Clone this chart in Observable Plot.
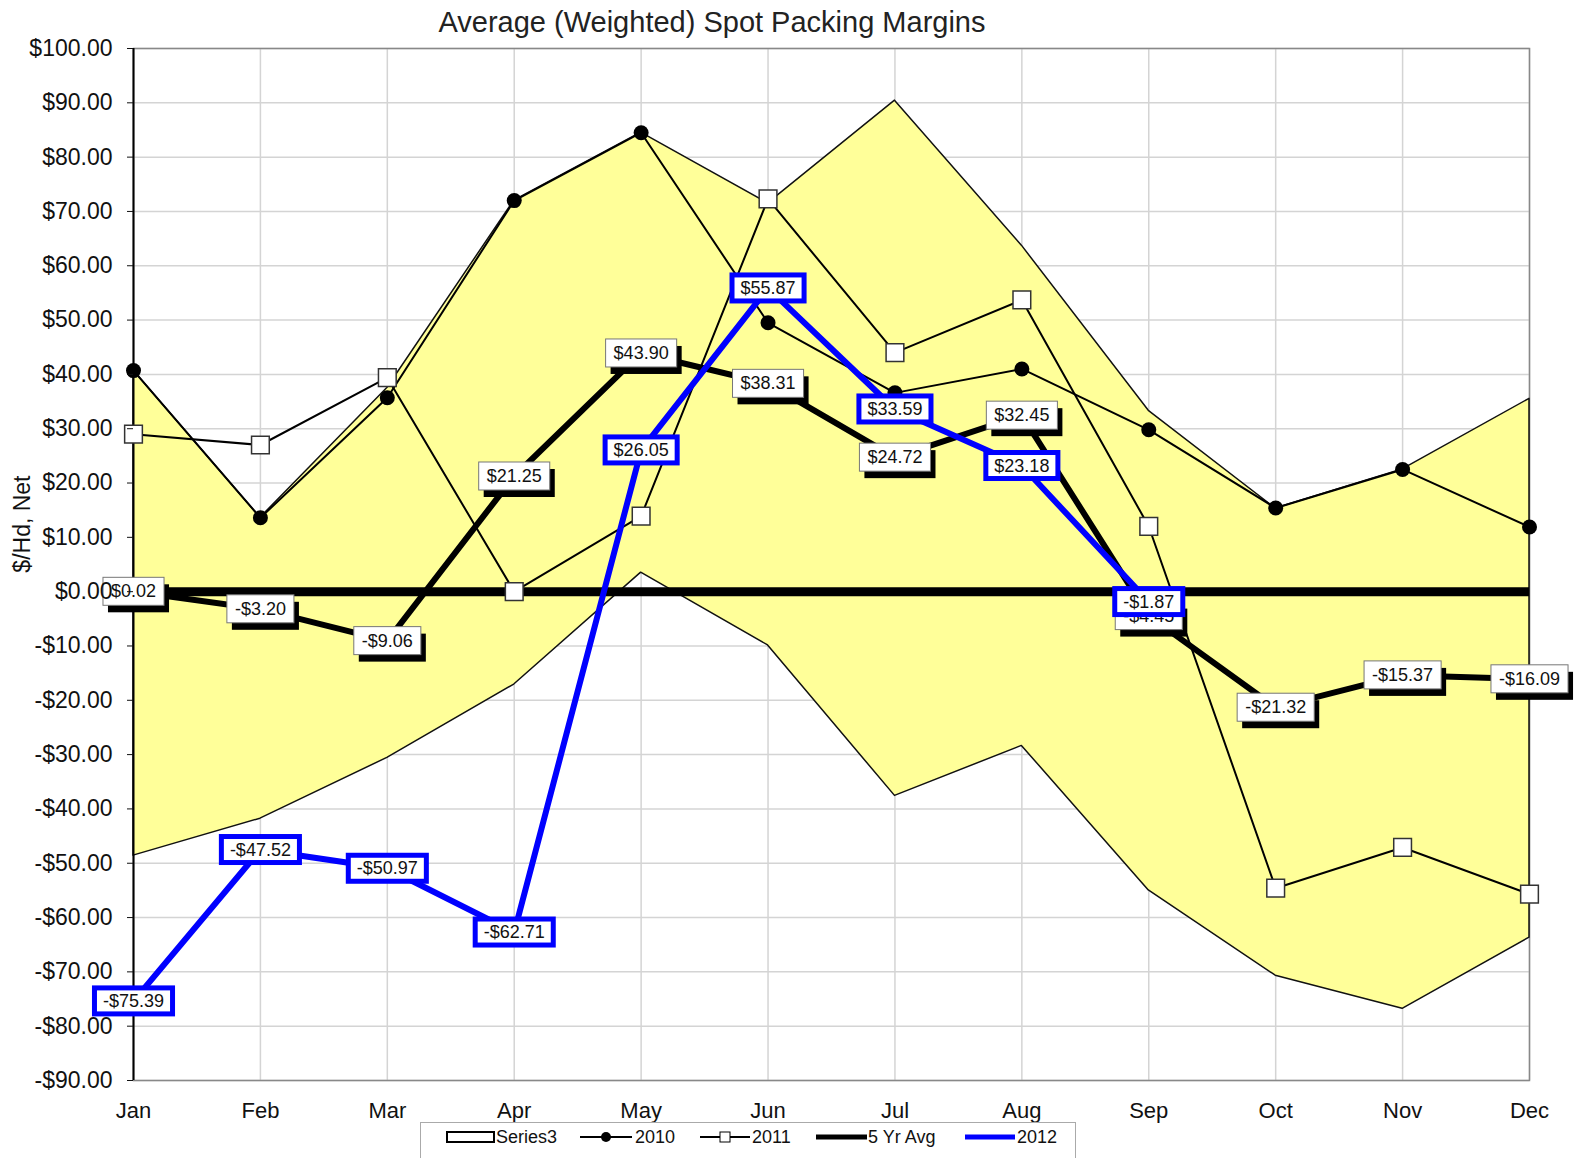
<!DOCTYPE html>
<html>
<head>
<meta charset="utf-8">
<script src="https://cdn.jsdelivr.net/npm/d3@7"></script>
<script src="https://cdn.jsdelivr.net/npm/@observablehq/plot@0.6"></script>
<style>
  body { margin: 0; background: #fff; font-family: "Liberation Sans", Arial, sans-serif; width: 1574px; }
  #title { position: relative; height: 36px; }
  #title span { position: absolute; left: 0; width: 1424px; text-align: center; font-size: 29px; color: #222; top: 6px; }
  #chart svg { display: block; }
  #legend { position: relative; height: 36px; margin-top: -2px; }
</style>
</head>
<body>
<div id="title"><span>Average (Weighted) Spot Packing Margins</span></div>
<div id="chart"></div>
<div id="legend"></div>
<script>
// ---------- data ----------
const months = ["Jan","Feb","Mar","Apr","May","Jun","Jul","Aug","Sep","Oct","Nov","Dec"];
const bandLow  = [-48.6,-41.8,-30.6,-17.1,3.5,-9.9,-37.6,-28.4,-55.0,-70.7,-76.8,-63.7];
const bandHigh = [40.7,13.6,37.5,72.0,84.5,71.5,90.4,63.7,33.3,15.3,22.5,35.5];
const s2010 = [40.7,13.6,35.7,72.0,84.5,49.5,36.6,41.0,29.8,15.4,22.5,11.9];
const s2011 = [29.0,27.0,39.4,0.0,13.9,72.3,44.0,53.7,12.0,-54.6,-47.1,-55.7];
const avg5  = [0.02,-3.20,-9.06,21.25,43.90,38.31,24.72,32.45,-4.45,-21.32,-15.37,-16.09];
const s2012 = [-75.39,-47.52,-50.97,-62.71,26.05,55.87,33.59,23.18,-1.87];
const yTicks = d3.range(-90, 101, 10);
const legendItems = ["Series3","2010","2011","5 Yr Avg","2012"];

const fmt = v => (v < 0 ? "-" : "") + "$" + Math.abs(v).toFixed(2);
const band = months.map((m, i) => ({m, lo: bandLow[i], hi: bandHigh[i]}));
const d2010 = months.map((m, i) => ({m, v: s2010[i]}));
const d2011 = months.map((m, i) => ({m, v: s2011[i]}));
const dAvg = months.map((m, i) => ({m, v: avg5[i]}));
const d2012 = s2012.map((v, i) => ({m: months[i], v}));

const chart = Plot.plot({
  width: 1574,
  height: 1088,
  marginLeft: 133,
  marginRight: 45,
  marginTop: 12,
  marginBottom: 44,
  style: {fontFamily: "'Liberation Sans', Arial, sans-serif", fontSize: "22px", color: "#111", background: "white"},
  x: {type: "point", domain: months, padding: 0, round: false, label: null},
  y: {domain: [-90, 100], label: null},
  marks: [
    Plot.gridX(months, {stroke: "#d4d4d4", strokeOpacity: 1, strokeWidth: 1.5}),
    Plot.gridY(yTicks, {stroke: "#d4d4d4", strokeOpacity: 1, strokeWidth: 1.5}),
    Plot.frame({stroke: "#888", strokeWidth: 1.5}),
    Plot.areaY(band, {x: "m", y1: "lo", y2: "hi", fill: "#ffff99", stroke: "#111", strokeWidth: 1.5}),
    Plot.ruleX([months[0]], {stroke: "black", strokeWidth: 2}),
    Plot.ruleY([0], {stroke: "black", strokeWidth: 9}),
    Plot.line(d2010, {x: "m", y: "v", stroke: "black", strokeWidth: 2}),
    Plot.dot(d2010, {x: "m", y: "v", r: 7.5, fill: "black"}),
    Plot.line(d2011, {x: "m", y: "v", stroke: "black", strokeWidth: 2}),
    Plot.dot(d2011, {x: "m", y: "v", symbol: "square", r: 10, fill: "white", stroke: "#333", strokeWidth: 1.5}),
    Plot.line(dAvg, {x: "m", y: "v", stroke: "black", strokeWidth: 6}),
    Plot.line(d2012, {x: "m", y: "v", stroke: "#0000ff", strokeWidth: 6}),
    Plot.text(dAvg, {x: "m", y: "v", text: d => fmt(d.v), fontSize: 18, fill: "#111", ariaDescription: "lbl5"}),
    Plot.text(d2012, {x: "m", y: "v", text: d => fmt(d.v), fontSize: 18, fill: "#111", ariaDescription: "lbl12"}),
    Plot.axisX({tickSize: 0, tickPadding: 22, fontSize: 22, label: null}),
    Plot.axisY({ticks: yTicks, tickFormat: fmt, tickSize: 6, tickPadding: 15, fontSize: 23, label: null}),
    Plot.text(["$/Hd, Net"], {text: d => d, frameAnchor: "left", y: [3.5], dx: -111, rotate: -90, fontSize: 23, fill: "#111"})
  ]
});
document.getElementById("chart").appendChild(chart);

// label boxes behind the data-label texts
const NS = "http://www.w3.org/2000/svg";
function boxify(sel, kind) {
  const g = chart.querySelector(`g[aria-description="${sel}"]`);
  if (!g) return;
  g.querySelectorAll("text").forEach(t => {
    const b = t.getBBox();
    const mk = (attrs) => {
      const r = document.createElementNS(NS, "rect");
      for (const k in attrs) r.setAttribute(k, attrs[k]);
      const tr = t.getAttribute("transform");
      if (tr) r.setAttribute("transform", tr);
      g.insertBefore(r, t);
      return r;
    };
    if (kind === "avg") {
      const w = b.width + 16, h = b.height + 8;
      const x = b.x + b.width / 2 - w / 2, y = b.y + b.height / 2 - h / 2;
      mk({x: x + 5, y: y + 7, width: w, height: h, fill: "black"});
      mk({x, y, width: w, height: h, fill: "white", stroke: "#777", "stroke-width": 1});
    } else {
      const w = b.width + 17, h = b.height + 6;
      const x = b.x + b.width / 2 - w / 2, y = b.y + b.height / 2 - h / 2;
      mk({x, y, width: w, height: h, fill: "white", stroke: "#0000ff", "stroke-width": 5});
    }
  });
}
boxify("lbl5", "avg");
boxify("lbl12", "blue");

// legend
const lg = d3.select("#legend").append("svg")
  .attr("width", 1574).attr("height", 36)
  .style("position", "absolute").style("left", 0).style("top", 0)
  .style("font-family", "'Liberation Sans', Arial, sans-serif").style("font-size", "18px");
lg.append("rect").attr("x", 420.5).attr("y", 0.5).attr("width", 655).attr("height", 60)
  .attr("fill", "white").attr("stroke", "#aaa");
const cy = 15;
lg.append("rect").attr("x", 447).attr("y", cy - 5).attr("width", 47).attr("height", 10)
  .attr("fill", "white").attr("stroke", "black").attr("stroke-width", 2);
lg.append("line").attr("x1", 580).attr("x2", 632).attr("y1", cy).attr("y2", cy).attr("stroke", "black").attr("stroke-width", 2);
lg.append("circle").attr("cx", 606).attr("cy", cy).attr("r", 5).attr("fill", "black");
lg.append("line").attr("x1", 700).attr("x2", 750).attr("y1", cy).attr("y2", cy).attr("stroke", "black").attr("stroke-width", 2);
lg.append("rect").attr("x", 720).attr("y", cy - 5).attr("width", 10).attr("height", 10).attr("fill", "white").attr("stroke", "black");
lg.append("line").attr("x1", 816).attr("x2", 867).attr("y1", cy).attr("y2", cy).attr("stroke", "black").attr("stroke-width", 5);
lg.append("line").attr("x1", 965).attr("x2", 1015).attr("y1", cy).attr("y2", cy).attr("stroke", "#0000ff").attr("stroke-width", 5);
const lx = [496, 635, 752, 868, 1017];
legendItems.forEach((s, i) => {
  lg.append("text").attr("x", lx[i]).attr("y", cy).attr("dy", "0.35em").attr("fill", "#111").text(s);
});
</script>
</body>
</html>
